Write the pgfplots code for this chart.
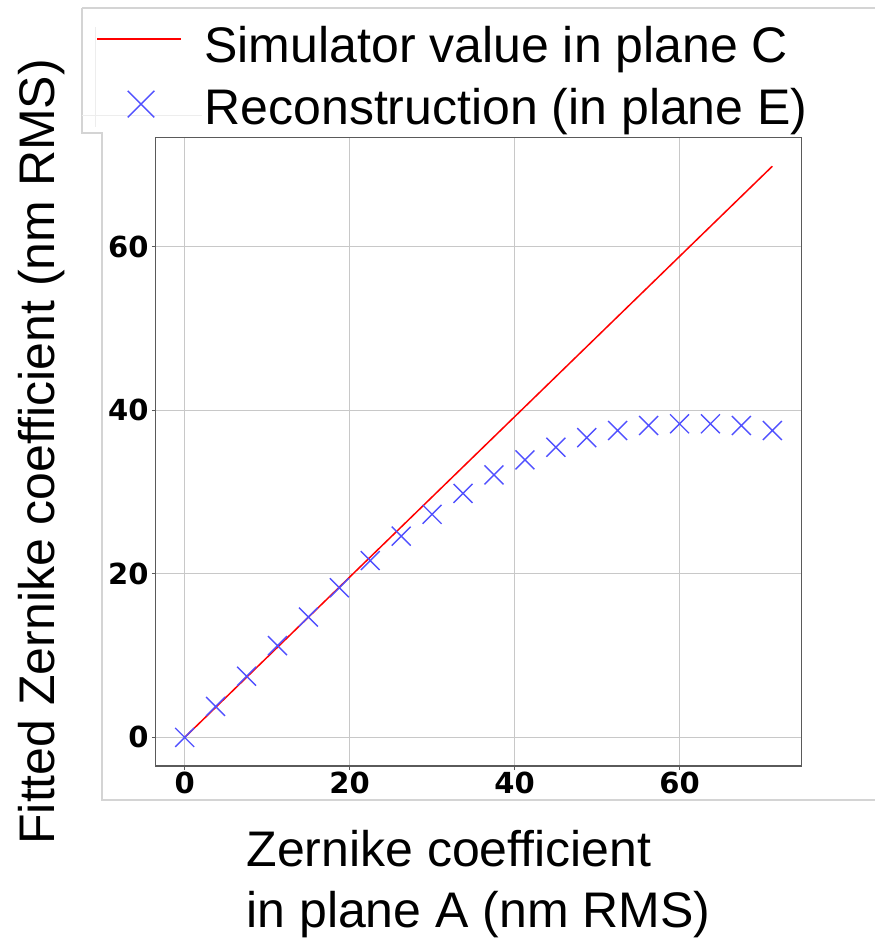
\documentclass[border=0pt]{standalone}
\usepackage{fontspec}
\setmainfont{Liberation Sans}
\newfontfamily\dvs{DejaVu Sans}
\usepackage{pgfplots}
\pgfplotsset{compat=1.18}
\definecolor{mkblue}{RGB}{80,80,255}
\definecolor{framegray}{RGB}{212,212,212}
\definecolor{gridgray}{RGB}{200,200,200}
\definecolor{spine}{RGB}{90,90,90}

\pgfplotstableread{
x y
0 0
3.75 3.79
7.5 7.48
11.25 11.22
15 14.71
18.75 18.29
22.5 21.62
26.25 24.60
30 27.26
33.75 29.82
37.5 32.08
41.25 33.92
45 35.46
48.75 36.64
52.5 37.51
56.25 38.12
60 38.33
63.75 38.33
67.5 38.12
71.25 37.51
}\recon

\begin{document}
\begin{tikzpicture}
\draw[framegray, line width=1.2pt] (82pt,930pt) -- (875pt,930pt);
\draw[framegray, line width=1.2pt] (82pt,930pt) -- (82pt,805pt) -- (102pt,805pt) -- (102pt,138pt) -- (875pt,138pt);
\draw[black!7, line width=1pt] (95pt,911pt) -- (95pt,811pt);
\draw[black!7, line width=1pt] (82pt,822pt) -- (202pt,822pt);

\begin{axis}[
  at={(155.3pt,172pt)}, anchor=south west,
  scale only axis, width=646.4pt, height=628.3pt,
  xmin=-3.5625, xmax=74.8125, ymin=-3.49, ymax=73.29,
  xtick={0,20,40,60}, ytick={0,20,40,60},
  xtick pos=bottom, ytick pos=left,
  grid=major, major grid style={gridgray, line width=1.1pt},
  axis line style={spine, line width=1.4pt},
  tick align=outside, tick style={spine, line width=1.2pt}, major tick length=3.5pt,
  ticklabel style={font=\dvs\bfseries\fontsize{29}{32}\selectfont, inner sep=0pt},
  /pgf/number format/assume math mode=true,
  yticklabel style={anchor=east, xshift=-3.1pt},
  xticklabel style={anchor=north, yshift=-2.5pt},
  xlabel={Zernike coefficient\\in plane A (nm RMS)},
  xlabel style={at={(axis description cs:0.5,-0.1027)}, anchor=north, align=left, inner sep=0pt, font=\fontsize{50}{61}\selectfont},
  ylabel={Fitted Zernike coefficient (nm RMS)},
  ylabel style={at={(axis description cs:-0.1567,0.5)}, anchor=base, inner sep=0pt, font=\fontsize{50}{61}\selectfont},
  legend style={draw=none, fill=none, inner sep=0pt, outer sep=0pt,
    at={(axis description cs:-0.0917,1.177)}, anchor=north west,
    font=\fontsize{50}{61}\selectfont, row sep=24pt, column sep=22.5pt,
    nodes={inner sep=0pt}},
  legend cell align=left,
]
\addplot[red, line width=1.5pt,
  legend image code/.code={\draw[red, line width=2pt] (0pt,6pt) -- (84pt,6pt);}]
  coordinates {(0,0) (71.25,69.8)};
\addlegendentry{Simulator value in plane C}
\addplot[only marks, mark=x, mark size=13.4pt, mkblue, mark options={line width=1.4pt},
  legend image code/.code={\path[draw=none] (0pt,0pt) -- (84pt,0pt);
    \path[mkblue, mark=x, mark size=18.8pt, line width=1.4pt, draw=none] plot coordinates {(44pt,3pt)};}]
  table[x=x, y=y] {\recon};
\addlegendentry{Reconstruction (in plane E)}
\end{axis}
\pgfresetboundingbox
\path (0,0) rectangle (875pt,938pt);
\end{tikzpicture}
\end{document}
